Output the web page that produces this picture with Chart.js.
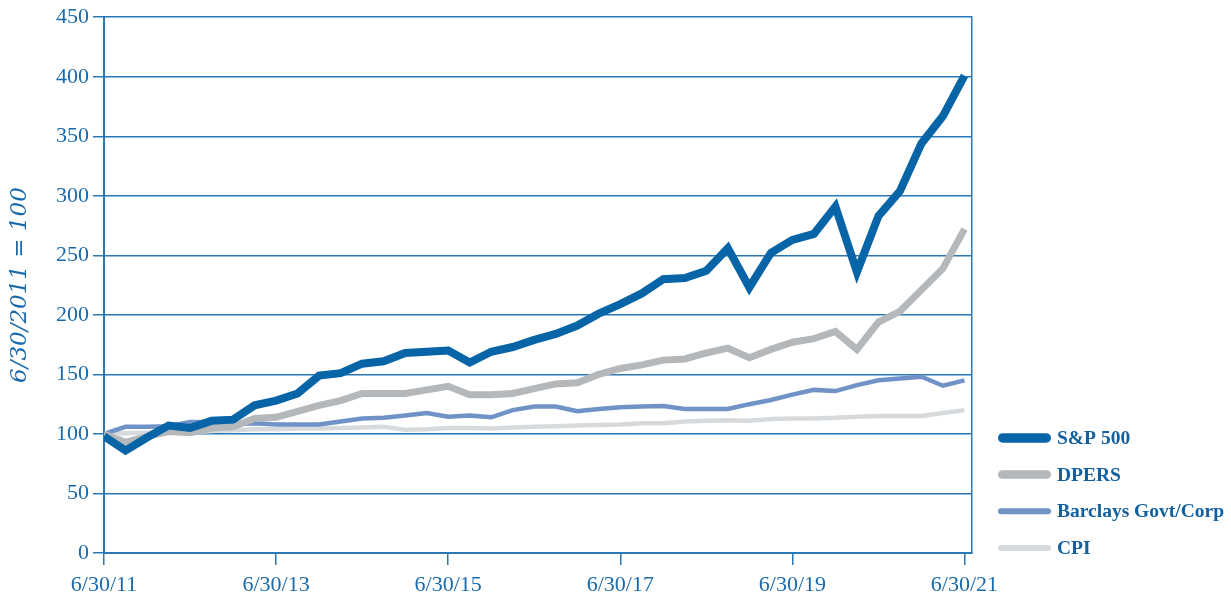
<!DOCTYPE html>
<html><head><meta charset="utf-8">
<script src="https://cdn.jsdelivr.net/npm/chart.js@4"></script>
<style>html,body{margin:0;padding:0;background:#fff;overflow:hidden}canvas{display:block}</style>
</head><body><canvas id="c" width="1231" height="601"></canvas>
<script>
// Quarter-end dates (categories)
const quarters = ['6/30/11','9/30/11','12/31/11','3/31/12','6/30/12','9/30/12','12/31/12','3/31/13',
  '6/30/13','9/30/13','12/31/13','3/31/14','6/30/14','9/30/14','12/31/14','3/31/15',
  '6/30/15','9/30/15','12/31/15','3/31/16','6/30/16','9/30/16','12/31/16','3/31/17',
  '6/30/17','9/30/17','12/31/17','3/31/18','6/30/18','9/30/18','12/31/18','3/31/19',
  '6/30/19','9/30/19','12/31/19','3/31/20','6/30/20','9/30/20','12/31/20','3/31/21','6/30/21'];
const sp500 = [98,86,97,107,105,111,112,124,128,134,149,151,159,161,168,169,170,160,169,173,179,184,191,201,209,218,230,231,237,256,223,252,263,268,291,236,283,304,344,367,401];
const dpers = [100,93,98,102,101,105,106,113,114,119,124,128,134,134,134,137,140,133,133,134,138,142,143,150,155,158,162,163,168,172,164,171,177,180,186,171,194,203,221,239,272];
const barclays = [100,106,106,106.5,110,110,108.5,109,108,108,108,110.5,113,113.5,115.5,117.5,114.5,115.5,114,120,123,123,119,121,122.5,123,123.5,121,121,121,125,128.5,133,137,136,141,145,146.5,148,140.5,145];
const cpi = [100,100.5,101,101.5,101.5,102.5,103,104,104,104.5,104.5,105,105.5,106,103.5,104,105,105,104.5,105.5,106,106.5,107,107.5,108,109,109,110.5,111,111.5,111,112.5,113,113,113.5,114.5,115,115,115,117.5,120];
const seriesNames = ['S&P 500','DPERS','Barclays Govt/Corp','CPI'];
const xTickLabels = ['6/30/11','6/30/13','6/30/15','6/30/17','6/30/19','6/30/21'];
const yTicks = [0,50,100,150,200,250,300,350,400,450];

const AXIS = '#2a77b6';
const TEXT = '#1a6aab';
const toPts = arr => arr.map((v,i)=>({x:i,y:v}));
const xTickPos = xTickLabels.map(l => quarters.indexOf(l));

const sideLegend = {
  id:'sideLegend',
  afterDraw(chart){
    const {ctx, chartArea} = chart;
    const o = chart.options.plugins.sideLegend;
    const ds = chart.data.datasets;
    const n = ds.length;
    const x0 = chartArea.right + o.offsetX;
    ds.forEach((d,i)=>{
      const y = chartArea.bottom - o.bottomInset - (n-1-i)*o.rowGap;
      const lw = d.borderWidth + 1.5;
      ctx.save();
      ctx.strokeStyle = d.borderColor;
      ctx.lineWidth = lw;
      ctx.lineCap = 'round';
      ctx.beginPath();
      ctx.moveTo(x0 + lw/2, y);
      ctx.lineTo(x0 + o.boxWidth - lw/2, y);
      ctx.stroke();
      ctx.fillStyle = o.color;
      ctx.font = o.font;
      ctx.textBaseline = 'middle';
      ctx.textAlign = 'left';
      ctx.fillText(d.label, x0 + o.boxWidth + o.gap, y + 1);
      ctx.restore();
    });
  }
};

const common = {fill:false, pointRadius:0, pointHoverRadius:0, tension:0, borderJoinStyle:'miter', borderCapStyle:'butt'};

new Chart(document.getElementById('c'), {
  type:'line',
  data:{
    datasets:[
      Object.assign({label:seriesNames[0], data:toPts(sp500), borderColor:'#0764a7', borderWidth:8}, common),
      Object.assign({label:seriesNames[1], data:toPts(dpers), borderColor:'#b4b8bb', borderWidth:7}, common),
      Object.assign({label:seriesNames[2], data:toPts(barclays), borderColor:'#7093c7', borderWidth:4.5}, common),
      Object.assign({label:seriesNames[3], data:toPts(cpi), borderColor:'#d7dadc', borderWidth:4.5}, common)
    ]
  },
  options:{
    responsive:false,
    animation:false,
    devicePixelRatio:1,
    layout:{padding:{left:0, top:16, right:259, bottom:0}},
    plugins:{
      legend:{display:false},
      tooltip:{enabled:false},
      sideLegend:{offsetX:26, bottomInset:5, rowGap:36.7, boxWidth:53, gap:6,
        color:'#12609f', font:'bold 19.5px "Liberation Serif"'}
    },
    scales:{
      x:{
        type:'linear', min:0, max:40.35,
        afterFit(s){ s.height = 48; },
        afterBuildTicks(s){ s.ticks = xTickPos.map(v=>({value:v})); },
        grid:{display:true, drawOnChartArea:false, drawTicks:true, tickLength:12, color:AXIS, lineWidth:1.5},
        border:{display:true, color:AXIS, width:2},
        ticks:{autoSkip:false, maxRotation:0, padding:7, color:TEXT,
          font:{family:'"Liberation Serif"', size:22},
          callback:(v)=>{ const k = xTickPos.indexOf(v); return k>=0 ? xTickLabels[k] : ''; }}
      },
      y:{
        type:'linear', position:'left', min:0, max:450,
        afterFit(s){ s.width = 104; },
        afterBuildTicks(s){ s.ticks = yTicks.map(v=>({value:v})); },
        grid:{display:true, drawOnChartArea:true, drawTicks:true, tickLength:11, color:AXIS, lineWidth:1.5},
        border:{display:true, color:AXIS, width:2},
        ticks:{padding:4, color:TEXT, font:{family:'"Liberation Serif"', size:22}},
        title:{display:true, text:'6/30/2011 = 100', color:TEXT, padding:{top:6,bottom:0},
          font:{family:'"DejaVu Serif"', size:23, style:'italic', lineHeight:1.2}}
      },
      y2:{
        type:'linear', position:'right', min:0, max:450,
        afterFit(s){ s.width = 0; },
        grid:{display:true, drawOnChartArea:false, drawTicks:false, color:AXIS},
        border:{display:true, color:AXIS, width:1.5},
        ticks:{display:false}
      }
    }
  },
  plugins:[sideLegend]
});
</script>
</body></html>
